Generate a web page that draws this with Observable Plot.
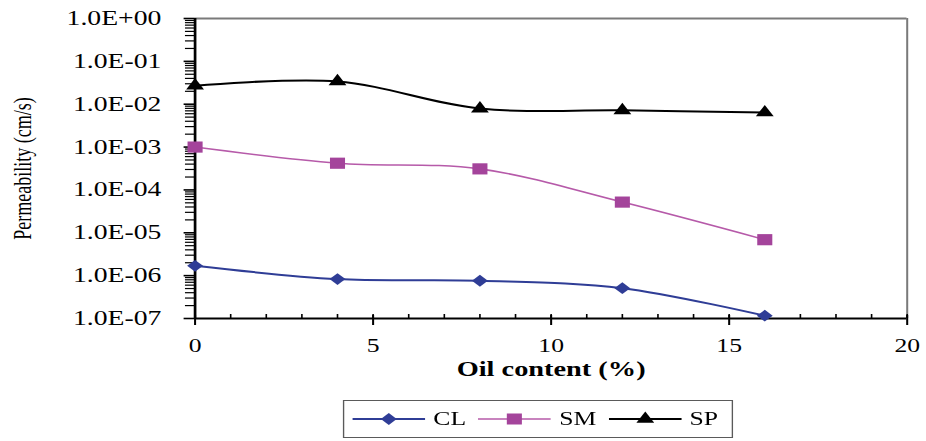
<!DOCTYPE html>
<html>
<head>
<meta charset="utf-8">
<script src="https://cdn.jsdelivr.net/npm/d3@7"></script>
<script src="https://cdn.jsdelivr.net/npm/@observablehq/plot@0.6"></script>
<style>
  html, body { margin: 0; padding: 0; background: #fff; }
  #chart {
    position: relative;
    width: 686px;
    height: 441px;
    transform: scaleX(1.35);
    transform-origin: 0 0;
    font-family: "Liberation Serif", "Times New Roman", serif;
  }
  #legend {
    position: absolute;
    left: 254px;
    top: 400px;
    width: 289px;
    height: 38px;
    box-sizing: border-box;
    border: 1.5px solid #5a5a5a;
    display: flex;
    align-items: center;
    padding-left: 6px;
    font-size: 19px;
    color: #000;
  }
  #legend .item { display: flex; align-items: center; margin-right: 9px; }
  #legend svg { display: block; margin-right: 6px; }
</style>
</head>
<body>
<div id="chart"></div>
<script>
// Oil content (%) of each tested mix
const oilContent = [0, 4, 8, 12, 16];

// Permeability (cm/s) per soil type
const seriesNames = ["CL", "SM", "SP"];
const clPermeability = [1.7e-6, 8.3e-7, 7.6e-7, 5.1e-7, 1.16e-7];
const smPermeability = [1.0e-3, 4.2e-4, 3.1e-4, 5.2e-5, 6.9e-6];
const spPermeability = [2.7e-2, 3.4e-2, 7.9e-3, 7.2e-3, 6.4e-3];

// Axis ticks and labels
const xTicks = [0, 5, 10, 15, 20];
const xMinorTicks = d3.range(0, 21, 1);
const yTicks = [1e-7, 1e-6, 1e-5, 1e-4, 1e-3, 1e-2, 1e-1, 1e0];
const yTickLabels = ["1.0E-07", "1.0E-06", "1.0E-05", "1.0E-04", "1.0E-03", "1.0E-02", "1.0E-01", "1.0E+00"];
const xLabel = "Oil content (%)";
const yLabel = "Permeability (cm/s)";

// Series styling
const seriesValues = [clPermeability, smPermeability, spPermeability];
const lineColors = ["#2f3d96", "#b65aa9", "#000000"];
const markerColors = ["#2f3d96", "#a4449b", "#000000"];
const markerSymbols = ["diamond2", "square", "triangle"];
const markerRadius = [5.3, 6.3, 4.9];
const lineWidths = [2, 1.6, 2];

const symbolTypes = { diamond2: d3.symbolDiamond2, square: d3.symbolSquare, triangle: d3.symbolTriangle };

const series = seriesNames.map((name, s) => ({
  name,
  points: oilContent.map((x, i) => ({ series: name, oil: x, k: seriesValues[s][i] }))
}));

// minor log ticks 2..9 within each decade
const yMinorTicks = yTicks.slice(0, -1).flatMap((d) => d3.range(2, 10).map((m) => d * m));

const tickLabel = new Map(yTicks.map((d, i) => [d, yTickLabels[i]]));

const chart = Plot.plot({
  width: 686,
  height: 390,
  marginLeft: 144,
  marginRight: 14.5,
  marginTop: 18,
  marginBottom: 72,
  x: { domain: [0, 20] },
  y: { type: "log", domain: [1e-7, 1] },
  style: {
    fontFamily: '"Liberation Serif", "Times New Roman", serif',
    fontSize: "19px",
    color: "#000",
    background: "#fff",
    overflow: "visible"
  },
  marks: [
    // plot-area border (top and right)
    Plot.ruleY([1], { stroke: "#7a7a7a", strokeWidth: 2 }),
    Plot.ruleX([20], { stroke: "#7a7a7a", strokeWidth: 1.5 }),
    // y ticks, outside the axis
    Plot.ruleY(yMinorTicks, { x1: 0, x2: 0, insetLeft: -7, stroke: "#000", strokeWidth: 1.2 }),
    Plot.ruleY(yTicks, { x1: 0, x2: 0, insetLeft: -8, stroke: "#000", strokeWidth: 1.6 }),
    // x ticks: minor inside, major across the axis
    Plot.ruleX(xMinorTicks, { y1: 1e-7, y2: 1e-7, insetTop: -4, insetBottom: 0, stroke: "#000", strokeWidth: 1.2 }),
    Plot.ruleX(xTicks, { y1: 1e-7, y2: 1e-7, insetTop: -3, insetBottom: -7, stroke: "#000", strokeWidth: 1.5 }),
    // axis lines
    Plot.ruleX([0], { stroke: "#000", strokeWidth: 2 }),
    Plot.ruleY([1e-7], { stroke: "#000", strokeWidth: 2 }),
    Plot.axisY({ ticks: yTicks, tickSize: 0, tickPadding: 25, tickFormat: (d) => tickLabel.get(d), label: null, fontSize: 20.5 }),
    Plot.axisX({ ticks: xTicks, tickSize: 0, tickPadding: 20, label: null }),
    Plot.text([xLabel], { frameAnchor: "bottom", dy: 57, fontWeight: "bold", fontSize: 21 }),
    Plot.text([yLabel], { frameAnchor: "left", dx: -127, rotate: -90, textAnchor: "middle", fontSize: 18, style: "letter-spacing:0.8px" }),
    ...series.map((s, i) =>
      Plot.line(s.points, { x: "oil", y: "k", stroke: lineColors[i], strokeWidth: lineWidths[i], curve: "cardinal" })
    ),
    ...series.map((s, i) =>
      Plot.dot(s.points, { x: "oil", y: "k", symbol: markerSymbols[i], r: markerRadius[i], fill: markerColors[i] })
    )
  ]
});

const root = document.getElementById("chart");
root.appendChild(chart);

// legend below the plot
const legend = d3.select(root).append("div").attr("id", "legend");
seriesNames.forEach((name, i) => {
  const item = legend.append("div").attr("class", "item");
  const sw = item.append("svg").attr("width", 54).attr("height", 20);
  sw.append("line").attr("x1", 0).attr("x2", 54).attr("y1", 10).attr("y2", 10)
    .attr("stroke", lineColors[i]).attr("stroke-width", lineWidths[i]);
  sw.append("path")
    .attr("transform", "translate(27,10)")
    .attr("d", d3.symbol(symbolTypes[markerSymbols[i]], Math.PI * markerRadius[i] ** 2)())
    .attr("fill", markerColors[i]);
  item.append("span").text(name);
});
</script>
</body>
</html>
